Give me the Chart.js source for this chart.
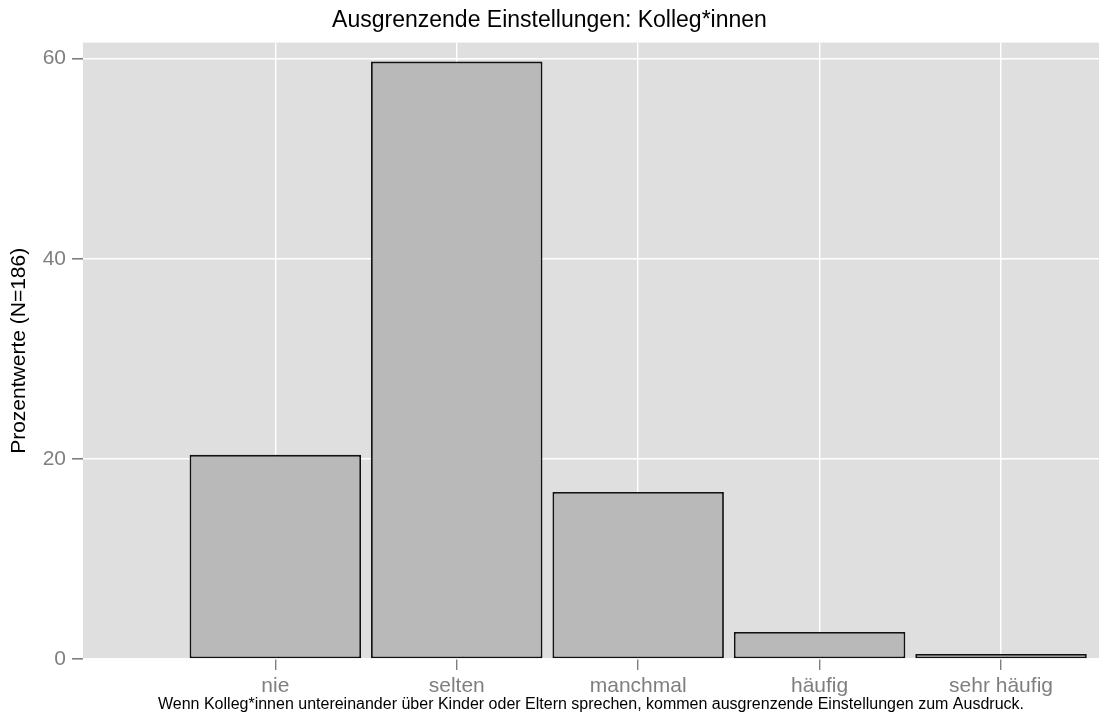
<!DOCTYPE html>
<html>
<head>
<meta charset="utf-8">
<script src="https://cdn.jsdelivr.net/npm/chart.js@4"></script>
<style>
  html, body { margin: 0; padding: 0; background: #fff; }
  #wrap { width: 1099px; height: 718px; }
</style>
</head>
<body>
<div id="wrap"><canvas id="einstellungenChart" width="1099" height="718"></canvas></div>
<script>
const kategorien = ["nie", "selten", "manchmal", "häufig", "sehr häufig"];
const prozent = [20.4, 59.7, 16.7, 2.7, 0.5];
const yTicks = [0, 20, 40, 60];

// graue Panelfläche wie bei ggplot
const panelHintergrund = {
	id: "panelHintergrund",
	beforeDraw(chart) {
		const { ctx, chartArea } = chart;
		ctx.save();
		ctx.fillStyle = "#dfdfdf";
		ctx.fillRect(chartArea.left, chartArea.top, chartArea.right - chartArea.left, chartArea.bottom - chartArea.top);
		ctx.restore();
	},
};

const ctx = document.getElementById("einstellungenChart").getContext("2d");

const chart = new Chart(ctx, {
	type: "bar",
	data: {
		datasets: [
			{
				label: "Prozent",
				data: prozent.map((p, i) => ({ x: i + 1, y: p })),
				backgroundColor: "#b9b9b9",
				borderColor: "#111",
				borderWidth: 1.8,
				borderSkipped: false,
				categoryPercentage: 1,
				barPercentage: 0.945,
			},
		],
	},
	options: {
		responsive: false,
		animation: false,
		plugins: {
			legend: { display: false },
			tooltip: { enabled: false },
			title: {
				display: true,
				text: "Ausgrenzende Einstellungen: Kolleg*innen",
				color: "#000",
				font: { family: "Liberation Sans", size: 23, weight: "normal", lineHeight: 1.2 },
				padding: { top: 7, bottom: 8 },
			},
		},
		scales: {
			x: {
				type: "linear",
				offset: false,
				min: -0.06,
				max: 5.54,
				afterBuildTicks: (axis) => {
					axis.ticks = kategorien.map((k, i) => ({ value: i + 1 }));
				},
				afterFit: (axis) => {
					axis.height = 59;
				},
				grid: {
					offset: false,
					color: "#ffffff",
					lineWidth: 1.4,
					tickColor: "#7f7f7f",
					tickLength: 11,
				},
				border: { display: false },
				ticks: {
					color: "#7f7f7f",
					padding: 4,
					maxRotation: 0,
					autoSkip: false,
					font: { family: "Liberation Sans", size: 21, lineHeight: 1.2 },
					callback: (v) => kategorien[v - 1] ?? "",
				},
				title: {
					display: true,
					text: "Wenn Kolleg*innen untereinander über Kinder oder Eltern sprechen, kommen ausgrenzende Einstellungen zum Ausdruck.",
					color: "#000",
					font: { family: "Liberation Sans", size: 16, lineHeight: 1 },
					padding: { top: 0, bottom: 5 },
				},
			},
			y: {
				min: 0,
				max: 61.6,
				afterBuildTicks: (axis) => {
					axis.ticks = yTicks.map((v) => ({ value: v }));
				},
				afterFit: (axis) => {
					axis.width = 83;
				},
				grid: {
					color: "#ffffff",
					lineWidth: 1.6,
					tickColor: "#7f7f7f",
					tickLength: 11,
				},
				border: { display: false },
				ticks: {
					color: "#7f7f7f",
					padding: 6,
					font: { family: "Liberation Sans", size: 21 },
				},
				title: {
					display: true,
					text: "Prozentwerte (N=186)",
					color: "#000",
					font: { family: "Liberation Sans", size: 21, lineHeight: 1.2 },
					padding: { top: 7, bottom: 4 },
				},
			},
		},
	},
	plugins: [panelHintergrund],
});
</script>
</body>
</html>
